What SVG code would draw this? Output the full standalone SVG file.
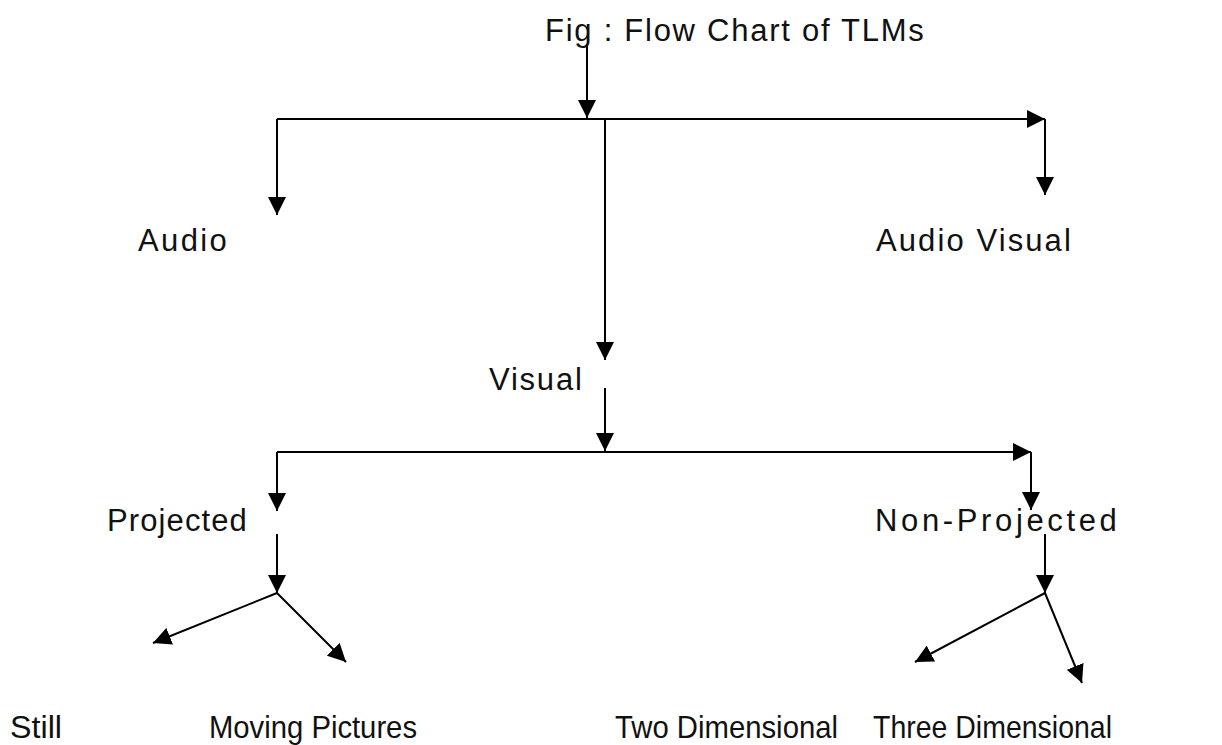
<svg xmlns="http://www.w3.org/2000/svg" width="1222" height="745" viewBox="0 0 1222 745">
<style>
text{font-family:"Liberation Sans",Arial,sans-serif;font-size:31px;fill:#111;letter-spacing:1.2px}
text.n{letter-spacing:0;font-size:32px}
.c line{stroke:#000;stroke-width:2;fill:none}
</style>
<defs>
<marker id="ah" markerUnits="userSpaceOnUse" markerWidth="18" markerHeight="18" viewBox="0 0 16 16" refX="16" refY="8" orient="auto">
<path d="M0,0 L16,8 L0,16 z" fill="#000"/>
</marker>
</defs>
<rect width="1222" height="745" fill="#fff"/>
<g class="c" id="connectors">
<line x1="587" y1="44" x2="587" y2="118" marker-end="url(#ah)"/>
<line x1="277" y1="119" x2="1045" y2="119" marker-end="url(#ah)"/>
<line x1="277" y1="119" x2="277" y2="215" marker-end="url(#ah)"/>
<line x1="1045" y1="119" x2="1045" y2="195" marker-end="url(#ah)"/>
<line x1="605" y1="119" x2="605" y2="360" marker-end="url(#ah)"/>
<line x1="605" y1="388" x2="605" y2="451" marker-end="url(#ah)"/>
<line x1="277" y1="452" x2="1031" y2="452" marker-end="url(#ah)"/>
<line x1="277" y1="452" x2="277" y2="511" marker-end="url(#ah)"/>
<line x1="1031" y1="452" x2="1031" y2="510" marker-end="url(#ah)"/>
<line x1="277" y1="534" x2="277" y2="593" marker-end="url(#ah)"/>
<line x1="277" y1="593" x2="153" y2="643" marker-end="url(#ah)"/>
<line x1="277" y1="593" x2="346" y2="662" marker-end="url(#ah)"/>
<line x1="1045" y1="534" x2="1045" y2="593" marker-end="url(#ah)"/>
<line x1="1045" y1="593" x2="915" y2="662" marker-end="url(#ah)"/>
<line x1="1045" y1="593" x2="1082" y2="683" marker-end="url(#ah)"/>
</g>
<g id="title"><text x="545" y="41" textLength="380">Fig : Flow Chart of TLMs</text></g>
<g id="audio"><text x="138" y="251" textLength="90">Audio</text></g>
<g id="audiovisual"><text x="876" y="251" textLength="196">Audio Visual</text></g>
<g id="visual"><text x="489" y="390" textLength="94">Visual</text></g>
<g id="projected"><text x="107" y="531" textLength="141">Projected</text></g>
<g id="nonprojected"><text x="875" y="531" textLength="243">Non-Projected</text></g>
<g id="still"><text class="n" x="10" y="738" textLength="52" lengthAdjust="spacingAndGlyphs">Still</text></g>
<g id="moving"><text class="n" x="209" y="738" textLength="208" lengthAdjust="spacingAndGlyphs">Moving Pictures</text></g>
<g id="twodim"><text class="n" x="615" y="738" textLength="223" lengthAdjust="spacingAndGlyphs">Two Dimensional</text></g>
<g id="threedim"><text class="n" x="873" y="738" textLength="239" lengthAdjust="spacingAndGlyphs">Three Dimensional</text></g>
</svg>
